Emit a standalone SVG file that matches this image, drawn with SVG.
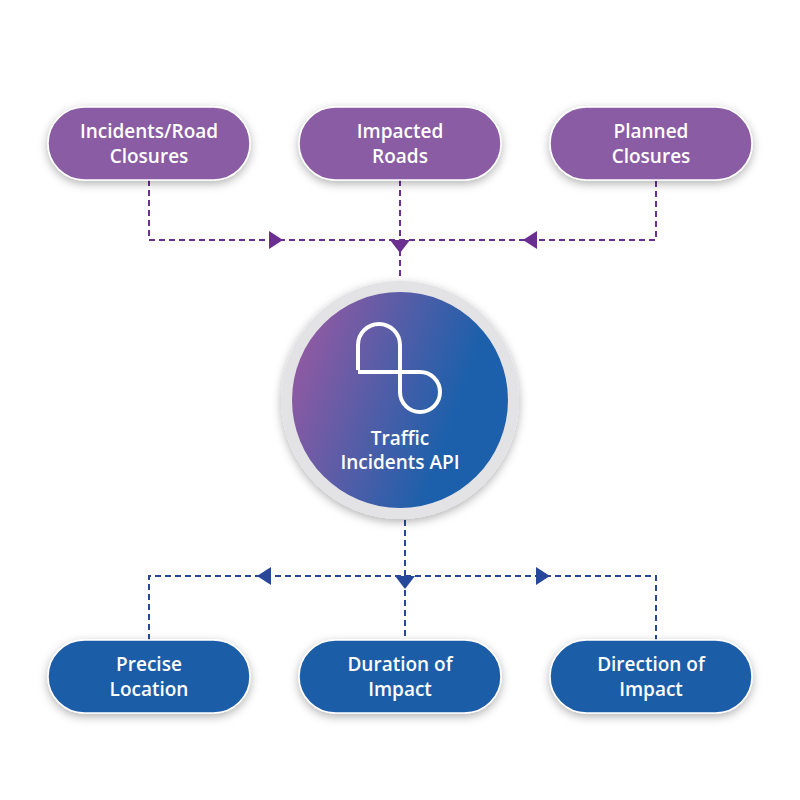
<svg xmlns="http://www.w3.org/2000/svg" width="800" height="800" viewBox="0 0 800 800">
<defs>
<linearGradient id="g" x1="0" y1="0" x2="1" y2="0.35">
<stop offset="0.15" stop-color="#8a5aa3"/><stop offset="0.85" stop-color="#1c60ab"/>
</linearGradient>
<filter id="sh" x="-30%" y="-30%" width="160%" height="160%"><feDropShadow dx="0" dy="3" stdDeviation="5" flood-opacity="0.3"/></filter>
</defs>
<style>
.t{fill:#8a5ca3;stroke:#fff;stroke-width:1.5;filter:url(#sh)}
.b{fill:#1e5da8;stroke:#fff;stroke-width:1.5;filter:url(#sh)}
.lbl{font-family:"Open Sans","Liberation Sans",sans-serif;font-weight:600;font-size:19px;fill:#fff;text-anchor:middle}
.dp{fill:none;stroke:#6a2f8f;stroke-width:2;stroke-dasharray:6,4}
.db{fill:none;stroke:#27489a;stroke-width:2;stroke-dasharray:6,4}
</style>
<g id="connectors">
<path class="dp" d="M149,180 V240 H656 V180 M400,180 V278"/>
<path d="M269,231 L283,240 L269,249Z" fill="#6a2f8f"/>
<path d="M390,240 L410,240 L400,253Z" fill="#6a2f8f"/>
<path d="M537,231 L523,240 L537,249Z" fill="#6a2f8f"/>
<path class="db" d="M149,640 V576 H656 V640 M405,520 V640"/>
<path d="M271,567 L257,576 L271,585Z" fill="#27489a"/>
<path d="M395,576 L415,576 L405,589Z" fill="#27489a"/>
<path d="M536,567 L550,576 L536,585Z" fill="#27489a"/>
</g>
<g id="n1"><rect class="t" x="48" y="107" width="202" height="73" rx="36.5"/><text class="lbl" x="149" y="138">Incidents/Road</text><text class="lbl" x="149" y="163">Closures</text></g>
<g id="n2"><rect class="t" x="299" y="107" width="202" height="73" rx="36.5"/><text class="lbl" x="400" y="138">Impacted</text><text class="lbl" x="400" y="163">Roads</text></g>
<g id="n3"><rect class="t" x="550" y="107" width="202" height="73" rx="36.5"/><text class="lbl" x="651" y="138">Planned</text><text class="lbl" x="651" y="163">Closures</text></g>
<g id="center">
<circle cx="400" cy="400" r="119" fill="#e3e3e6" filter="url(#sh)"/>
<circle cx="400" cy="400" r="108" fill="url(#g)"/>
<path d="M358,370 V345 A21,21 0 0 1 400,345 V392 A20,20 0 1 0 420,372 H358" fill="none" stroke="#fff" stroke-width="4" stroke-linejoin="round"/>
<text class="lbl" x="400" y="445">Traffic</text>
<text class="lbl" x="400" y="469">Incidents API</text>
</g>
<g id="n4"><rect class="b" x="48" y="640" width="202" height="73" rx="36.5"/><text class="lbl" x="149" y="671">Precise</text><text class="lbl" x="149" y="696">Location</text></g>
<g id="n5"><rect class="b" x="299" y="640" width="202" height="73" rx="36.5"/><text class="lbl" x="400" y="671">Duration of</text><text class="lbl" x="400" y="696">Impact</text></g>
<g id="n6"><rect class="b" x="550" y="640" width="202" height="73" rx="36.5"/><text class="lbl" x="651" y="671">Direction of</text><text class="lbl" x="651" y="696">Impact</text></g>
</svg>
